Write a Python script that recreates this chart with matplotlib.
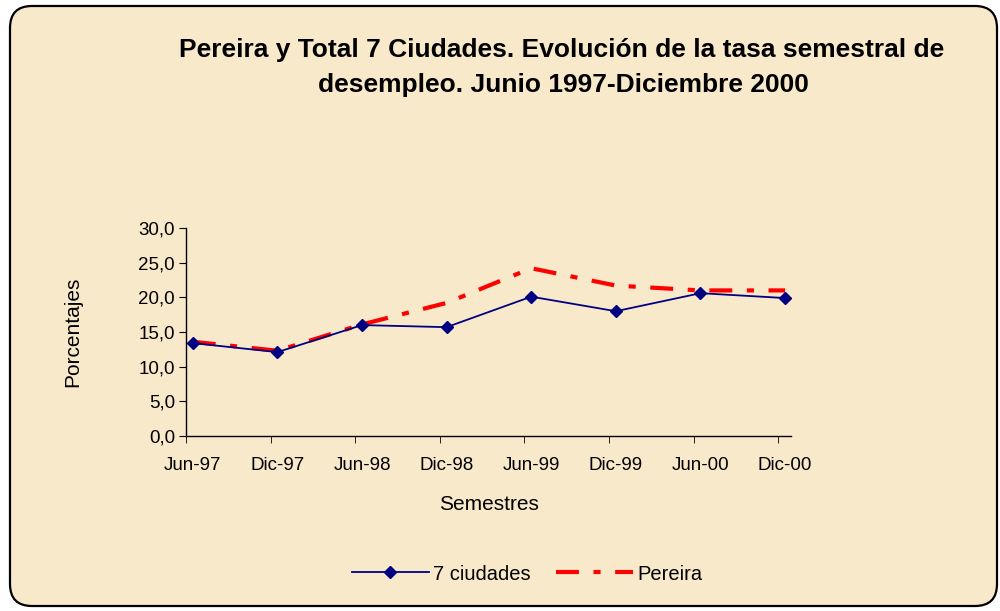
import numpy as np
import matplotlib
matplotlib.use("Agg")
import matplotlib.pyplot as plt
from matplotlib.patches import FancyBboxPatch
from matplotlib.transforms import IdentityTransform

semestres = ["Jun-97", "Dic-97", "Jun-98", "Dic-98", "Jun-99", "Dic-99", "Jun-00", "Dic-00"]
ciudades7 = [13.4, 12.1, 16.0, 15.7, 20.1, 18.0, 20.6, 19.9]
pereira = [13.6, 12.3, 16.1, 19.2, 24.2, 21.7, 21.0, 21.0]
yticks = [0, 5, 10, 15, 20, 25, 30]

plt.rcParams["font.family"] = ["Liberation Sans", "DejaVu Sans"]

fig = plt.figure(figsize=(10, 6.11), dpi=100, facecolor="white")

# rounded parchment frame, in pixels
frame = FancyBboxPatch((10, 5), 987, 600, boxstyle="round,pad=0,rounding_size=22",
                       transform=IdentityTransform(), facecolor="#f9e9cb",
                       edgecolor="black", linewidth=1.6, zorder=-5)
fig.patches.append(frame)

ax = fig.add_axes([0.186, 0.2864, 0.605, 0.3404])
ax.set_facecolor("none")
ax.set_zorder(2)

x = np.arange(len(semestres))
ax.plot(x, ciudades7, color="#000080", lw=1.3, marker="D", markersize=6.5,
        label="7 ciudades", zorder=3)
ax.plot(x, pereira, color="#ff0000", lw=3, dashes=(5.5, 3.5, 1.7, 3.5),
        label="Pereira", zorder=2)

ax.set_ylim(0, 30)
ax.set_xlim(-0.08, len(semestres) - 1 + 0.07)
ax.set_yticks(yticks)
ax.set_yticklabels([f"{v:.1f}".replace(".", ",") for v in yticks])
ax.set_xticks(x)
ax.set_xticklabels(semestres)
ax.set_xticks(x - 0.08, minor=True)
ax.tick_params(axis="x", which="major", length=0, pad=15, labelsize=13.5)
ax.tick_params(axis="x", which="minor", length=5, direction="out", color="black")
ax.tick_params(axis="y", length=5, direction="out", labelsize=13.5, pad=3)

for s in ["top", "right"]:
    ax.spines[s].set_visible(False)
ax.spines["left"].set_linewidth(1.0)
ax.spines["bottom"].set_linewidth(1.0)

ax.set_xlabel("Semestres", fontsize=15, labelpad=15)
ax.set_ylabel("Porcentajes", fontsize=15, labelpad=40)

fig.text(0.562, 1 - 50 / 611, "Pereira y Total 7 Ciudades. Evolución de la tasa semestral de",
         ha="center", va="center", fontsize=19, fontweight="bold")
fig.text(0.563, 1 - 85 / 611, "desempleo. Junio 1997-Diciembre 2000",
         ha="center", va="center", fontsize=19, fontweight="bold")

fig.legend(loc="center", bbox_to_anchor=(0.527, 1 - 574 / 611), ncol=2, frameon=False,
           fontsize=14.5, handlelength=3.8, columnspacing=1.3, handletextpad=0.2)

fig.savefig("out.png", dpi=100, facecolor="white")
